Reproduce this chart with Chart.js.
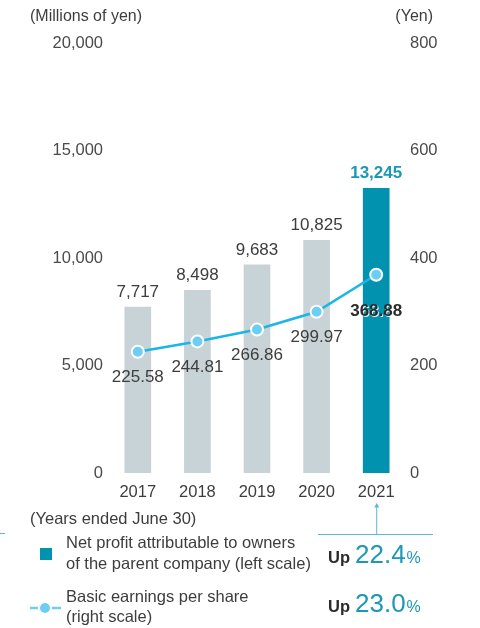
<!DOCTYPE html>
<html>
<head>
<meta charset="utf-8">
<script src="https://cdn.jsdelivr.net/npm/chart.js@4"></script>
<style>
  body { margin: 0; background: #fff; }
  #wrap { width: 480px; height: 628px; }
</style>
</head>
<body>
<div id="wrap"><canvas id="profitChart" width="480" height="628"></canvas></div>
<script>
// Fiscal years (ended June 30)
const years = ['2017', '2018', '2019', '2020', '2021'];
// Net profit attributable to owners of the parent (millions of yen)
const netProfit = [7717, 8498, 9683, 10825, 13245];
// Basic earnings per share (yen)
const eps = [225.58, 244.81, 266.86, 299.97, 368.88];
// Axis ticks
const leftTicks = [0, 5000, 10000, 15000, 20000];
const rightTicks = [0, 200, 400, 600, 800];
// Year-on-year changes shown under the chart
const profitChange = '22.4';
const epsChange = '23.0';

const FONT = '"Liberation Sans", Arial, sans-serif';
const TEXT = '#3d3d3d';
const TEAL = '#0092ae';
const TEAL_TEXT = '#1a98b5';
const GREY_BAR = '#c8d3d7';
const LINE = '#1bb5e8';
const DOT = '#6dcef5';
const RULE = '#5cb9d3';

const fmt = v => v.toLocaleString('en-US');

// value labels above the bars and under the EPS points
const valueLabels = {
    id: 'valueLabels',
    afterDatasetsDraw(chart) {
        const ctx = chart.ctx;
        const last = years.length - 1;
        ctx.save();
        ctx.textAlign = 'center';
        ctx.textBaseline = 'middle';

        const bars = chart.getDatasetMeta(1).data;
        bars.forEach((bar, i) => {
            if (i === last) {
                ctx.font = 'bold 17px ' + FONT;
                ctx.fillStyle = TEAL_TEXT;
            } else {
                ctx.font = '17px ' + FONT;
                ctx.fillStyle = TEXT;
            }
            ctx.fillText(fmt(netProfit[i]), bar.x, bar.y - 15);
        });

        const pts = chart.getDatasetMeta(0).data;
        pts.forEach((pt, i) => {
            const txt = eps[i].toFixed(2);
            if (i === last) {
                ctx.font = 'bold 17px ' + FONT;
                ctx.shadowColor = 'rgba(255,255,255,0.9)';
                ctx.shadowOffsetX = 1;
                ctx.shadowOffsetY = 1;
                ctx.fillStyle = '#2b2b2b';
                ctx.fillText(txt, pt.x, pt.y + 37);
                ctx.shadowColor = 'transparent';
            } else {
                ctx.font = '17px ' + FONT;
                ctx.fillStyle = TEXT;
                ctx.fillText(txt, pt.x, pt.y + 26);
            }
        });
        ctx.restore();
    }
};

// unit captions, footnote, pointer rule and the legend block
const annotations = {
    id: 'annotations',
    afterDraw(chart) {
        const ctx = chart.ctx;
        const x21 = chart.getDatasetMeta(1).data[years.length - 1].x;
        ctx.save();
        ctx.textBaseline = 'middle';
        ctx.fillStyle = TEXT;
        ctx.font = '16px ' + FONT;
        ctx.textAlign = 'left';
        ctx.fillText('(Millions of yen)', 30, 17);
        ctx.textAlign = 'right';
        ctx.fillText('(Yen)', 433, 17);

        ctx.textAlign = 'left';
        ctx.font = '16.5px ' + FONT;
        ctx.fillText('(Years ended June 30)', 30, 519);

        // pointer from the 2021 column down to the change figures
        ctx.strokeStyle = RULE;
        ctx.fillStyle = RULE;
        ctx.lineWidth = 1;
        ctx.beginPath();
        ctx.moveTo(0, 533.5); ctx.lineTo(5, 533.5);
        ctx.moveTo(318, 534.5); ctx.lineTo(433, 534.5);
        ctx.moveTo(x21 + 0.5, 534); ctx.lineTo(x21 + 0.5, 507);
        ctx.stroke();
        ctx.beginPath();
        ctx.moveTo(x21 + 0.5, 503);
        ctx.lineTo(x21 - 2, 507.5);
        ctx.lineTo(x21 + 3, 507.5);
        ctx.closePath();
        ctx.fill();

        // legend: bar swatch
        ctx.fillStyle = TEAL;
        ctx.fillRect(40, 548, 12, 12);
        // legend: line + dot swatch
        ctx.strokeStyle = DOT;
        ctx.lineWidth = 2.5;
        ctx.beginPath();
        ctx.moveTo(30, 608); ctx.lineTo(38, 608);
        ctx.moveTo(52, 608); ctx.lineTo(61, 608);
        ctx.stroke();
        ctx.fillStyle = DOT;
        ctx.beginPath();
        ctx.arc(45, 608, 5, 0, Math.PI * 2);
        ctx.fill();

        ctx.fillStyle = TEXT;
        ctx.font = '16.5px ' + FONT;
        ctx.fillText('Net profit attributable to owners', 66, 543);
        ctx.fillText('of the parent company (left scale)', 66, 564);
        ctx.fillText('Basic earnings per share', 66, 597);
        ctx.fillText('(right scale)', 66, 617);

        // change figures
        const change = (val, base) => {
            ctx.textBaseline = 'alphabetic';
            let x = 328;
            ctx.font = 'bold 16.5px ' + FONT;
            ctx.fillStyle = '#2b2b2b';
            ctx.fillText('Up', x, base);
            x += ctx.measureText('Up').width + 5;
            ctx.font = '26px ' + FONT;
            ctx.fillStyle = TEAL_TEXT;
            ctx.fillText(val, x, base);
            x += ctx.measureText(val).width + 1;
            ctx.font = '16px ' + FONT;
            ctx.fillText('%', x, base);
        };
        change(profitChange, 563);
        change(epsChange, 612);
        ctx.restore();
    }
};

const ctx = document.getElementById('profitChart').getContext('2d');
const chart = new Chart(ctx, {
    data: {
        labels: years,
        datasets: [{
            type: 'line',
            label: 'Basic earnings per share (right scale)',
            data: eps,
            yAxisID: 'y1',
            order: 0,
            borderColor: LINE,
            borderWidth: 2.5,
            tension: 0,
            pointRadius: 6,
            pointBackgroundColor: DOT,
            pointBorderColor: '#fff',
            pointBorderWidth: 2
        }, {
            type: 'bar',
            label: 'Net profit attributable to owners of the parent company (left scale)',
            data: netProfit,
            yAxisID: 'y',
            order: 1,
            backgroundColor: netProfit.map((v, i) => i === netProfit.length - 1 ? TEAL : GREY_BAR),
            barThickness: 26
        }]
    },
    options: {
        responsive: false,
        animation: false,
        layout: { padding: { top: 43, left: 0, right: 0, bottom: 0 } },
        plugins: {
            legend: { display: false },
            tooltip: { enabled: false }
        },
        scales: {
            x: {
                offset: true,
                grid: { display: false, drawTicks: false },
                border: { display: false },
                ticks: { font: { family: FONT, size: 16.5 }, color: TEXT, padding: 10 },
                afterFit: s => { s.height = 155; }
            },
            y: {
                position: 'left',
                min: 0,
                max: 20000,
                grid: { display: false, drawTicks: false },
                border: { display: false },
                afterBuildTicks: s => { s.ticks = leftTicks.map(v => ({ value: v })); },
                ticks: {
                    font: { family: FONT, size: 16.5 },
                    color: '#4a4a4a',
                    padding: 5,
                    callback: v => fmt(v)
                },
                afterFit: s => { s.width = 108; }
            },
            y1: {
                position: 'right',
                min: 0,
                max: 800,
                grid: { display: false, drawTicks: false },
                border: { display: false },
                afterBuildTicks: s => { s.ticks = rightTicks.map(v => ({ value: v })); },
                ticks: {
                    font: { family: FONT, size: 16.5 },
                    color: '#4a4a4a',
                    padding: 4,
                    callback: v => fmt(v)
                },
                afterFit: s => { s.width = 74; }
            }
        }
    },
    plugins: [valueLabels, annotations]
});
</script>
</body>
</html>
